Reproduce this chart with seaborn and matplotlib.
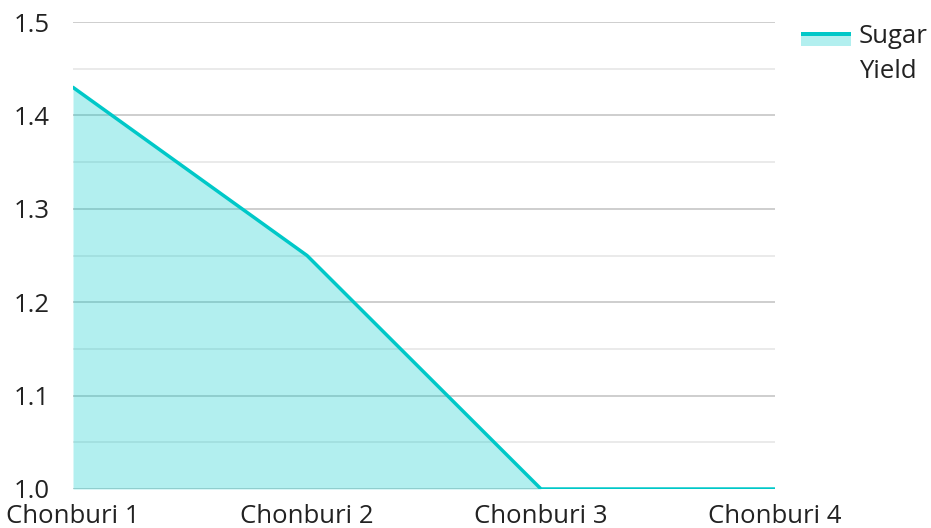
import pandas as pd
import matplotlib.pyplot as plt
import seaborn as sns
from matplotlib.patches import Rectangle

# Data
regions = ["Chonburi 1", "Chonburi 2", "Chonburi 3", "Chonburi 4"]
sugar_yield = [1.43, 1.25, 1.0, 1.0]
series_name = "Sugar\nYield"

df = pd.DataFrame({"region": regions, "yield": sugar_yield, "pos": range(len(regions))})

sns.set_theme(style="white")
plt.rcParams['font.family'] = ['Open Sans', 'DejaVu Sans']

line_color = "#00C8C8"
fill_color = (0.0, 0.8, 0.8, 0.3)
W, H = 931, 528

fig = plt.figure(figsize=(W / 100, H / 100), dpi=100)
ax = fig.add_axes([73 / W, 1 - 489 / H, (775 - 73) / W, (489 - 22) / H])

# gridlines
for v in [1.05, 1.15, 1.25, 1.35, 1.45]:
    ax.axhline(v, color="#e6e6e6", lw=1.2, zorder=0)
for v in [1.0, 1.1, 1.2, 1.3, 1.4, 1.5]:
    ax.axhline(v, color="#c6c6c6", lw=1.2, zorder=0)

ax.fill_between(df["pos"], 1.0, df["yield"], color=fill_color, lw=0, zorder=1)
sns.lineplot(data=df, x="pos", y="yield", color=line_color, lw=2.5, ax=ax, zorder=2)

ax.set_xlim(0, 3)
ax.set_ylim(1.0, 1.5)
ax.set_xticks(df["pos"])
ax.set_xticklabels(regions)
ax.set_yticks([1.0, 1.1, 1.2, 1.3, 1.4, 1.5])
ax.set_yticklabels(["1.0", "1.1", "1.2", "1.3", "1.4", "1.5"])
ax.tick_params(axis="both", length=0, labelsize=18.5, colors="#222222")
ax.tick_params(axis="y", pad=17)
ax.tick_params(axis="x", pad=11)
ax.set_xlabel("")
ax.set_ylabel("")
for s in ax.spines.values():
    s.set_visible(False)

# legend: area swatch (line on top of a light band) with wrapped label
fig.patches.append(Rectangle((801 / W, 1 - 46 / H), 50 / W, 10 / H,
                             facecolor=fill_color, edgecolor="none",
                             transform=fig.transFigure, figure=fig))
fig.patches.append(Rectangle((801 / W, 1 - 36 / H), 50 / W, 4 / H,
                             facecolor=line_color, edgecolor="none",
                             transform=fig.transFigure, figure=fig))
fig.text(859 / W, 1 - 24 / H, series_name, ha="left", va="top",
         fontsize=18.5, color="#222222", linespacing=1.5)

fig.savefig("out.png", dpi=100)
